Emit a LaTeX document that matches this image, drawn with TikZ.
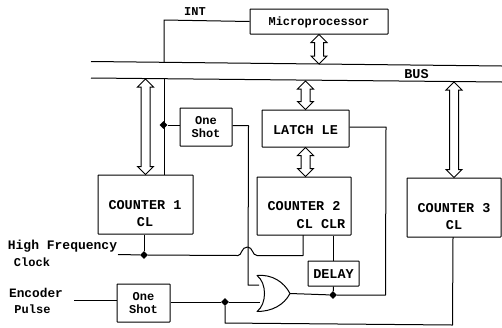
\documentclass[tikz,border=0pt]{standalone}
\usepackage{fontspec}
\setmainfont{Liberation Mono}
\usetikzlibrary{calc,shapes.geometric}
\tikzset{
  box/.style={draw,line width=1pt,inner sep=0pt,rounded corners=0.5pt},
  wire/.style={draw,line width=1pt,line join=round},
  dotnode/.style={diamond,fill=black,inner sep=0pt,minimum width=8pt,minimum height=8pt},
  txa/.style={inner sep=0pt,font=\fontsize{12}{14}\selectfont\bfseries,align=center},
  txb/.style={inner sep=0pt,font=\fontsize{13.5}{15}\selectfont\bfseries,align=center},
  arrowline/.style={line width=1pt,line join=miter},
  dblarrow/.style={to path={
    let \p1=(\tikztostart),\p2=(\tikztotarget) in
    (\x1,\y1) -- (\x1+8pt,\y1-8pt) -- (\x1+4.5pt,\y1-8pt) -- (\x1+4.5pt,\y2+8pt)
    -- (\x1+8pt,\y2+8pt) -- (\x1,\y2) -- (\x1-8pt,\y2+8pt) -- (\x1-4.5pt,\y2+8pt)
    -- (\x1-4.5pt,\y1-8pt) -- (\x1-8pt,\y1-8pt) -- cycle}}
}
\begin{document}
\begin{tikzpicture}[x=1pt,y=-1pt]
\useasboundingbox (0,0) rectangle (502,327);
% boxes
\node[box,minimum width=138pt,minimum height=25pt] (mp) at (319,21.5) {};
\node[txa] (mptext) at (319,22) {Microprocessor};
\node[box,minimum width=52pt,minimum height=38pt] (os1) at (206,127) {};
\node[txa] (os1text) at (206,127) {One\\[-1pt]Shot};
\node[box,minimum width=87pt,minimum height=37pt] (latch) at (305.5,128.5) {};
\node[txb] (latchtext) at (305.5,130) {LATCH LE};
\node[box,minimum width=95pt,minimum height=59pt] (c1) at (145.5,204.5) {};
\node[txb] (c1a) at (145,205) {COUNTER 1};
\node[txb] (c1b) at (145,222) {CL};
\node[box,minimum width=94pt,minimum height=58pt] (c2) at (304,206) {};
\node[txb] (c2a) at (304,206.5) {COUNTER 2};
\node[txb] (c2b) at (321,224) {CL CLR};
\node[box,minimum width=94pt,minimum height=59pt] (c3) at (454,207.5) {};
\node[txb] (c3a) at (454,208) {COUNTER 3};
\node[txb] (c3b) at (454,225) {CL};
\node[box,minimum width=51pt,minimum height=25pt] (delay) at (333.5,273.5) {};
\node[txb] (delaytext) at (333.5,274) {DELAY};
\node[box,minimum width=53pt,minimum height=38pt] (os2) at (143.5,303) {};
\node[txa] (os2text) at (143.5,303) {One\\[-1pt]Shot};
% free labels
\node[txa] (int) at (195,12) {INT};
\node[txb] (bus) at (416.5,74) {BUS};
\node[txa,font=\fontsize{13}{15}\selectfont\bfseries] (hf) at (62.5,246.5) {High Frequency};
\node[txa] (clock) at (32,262.5) {Clock};
\node[txa,font=\fontsize{12.8}{15}\selectfont\bfseries] (enc) at (36,292.5) {Encoder};
\node[txa] (pulse) at (32.5,309) {Pulse};
% bus
\coordinate (btl) at (91,61.5);
\coordinate (btr) at (502,66);
\coordinate (bbl) at (91,78);
\coordinate (bbr) at (502,82);
\draw[wire] (btl) -- (btr);
\draw[wire] (bbl) -- (bbr);
% bus tap points
\coordinate (tapmp) at (319,64);
\coordinate (tapla) at (305.5,81);
\coordinate (tapc1) at (145.5,79);
\coordinate (tapc3) at (454,82);
\coordinate (inttop) at (164,62);
\coordinate (intc) at (164,20);
\coordinate (c1bus) at (164,79);
\coordinate (c1top) at (164,175);
% double arrows
\draw[arrowline] (mp.south) to[dblarrow] (tapmp);
\draw[arrowline] (tapla) to[dblarrow] (latch.north);
\draw[arrowline] (latch.south) to[dblarrow] (c2.north);
\draw[arrowline] (tapc1) to[dblarrow] (c1.north);
\draw[arrowline] (tapc3) to[dblarrow] (c3.north);
% INT
\draw[wire] (mp.west) -- (intc) -- (inttop);
\draw[wire] (c1bus) -- (c1top);
% one shot 1
\node[dotnode] (d1) at (163.5,125) {};
\draw[wire] (d1) -- (os1.west |- d1);
\coordinate (s1) at (248.5,125.5);
\coordinate (s2) at (248,285);
\coordinate (orA) at (259,285);
\draw[wire] (os1.east |- s1) -- (s1) -- (s2) -- (orA);
% OR gate
\coordinate (orT) at (257,275.5);
\coordinate (orB) at (257,311.5);
\coordinate (orO) at (290,293.5);
\draw[wire] (orT) .. controls (267,283) and (267,304) .. (orB)
  .. controls (272,311.5) and (284,305) .. (orO)
  .. controls (284,282) and (272,274) .. (orT) -- cycle;
% OR output
\node[dotnode] (d2) at (333,295) {};
\coordinate (r1) at (385.5,295);
\coordinate (r2) at (386,127);
\draw[wire] (orO) -- (d2) -- (r1) -- (r2) -- (latch.east |- r2);
\draw[wire] (delay.south) -- (d2);
\draw[wire] (delay.north) -- (delay.north |- c2.south);
% clock
\coordinate (hfl) at (118,254.5);
\node[dotnode] (d3) at (144,255) {};
\coordinate (jl) at (238,255.5);
\coordinate (jt) at (247.5,247);
\coordinate (jr) at (257,255.5);
\coordinate (cl2) at (303,255.5);
\coordinate (cl2t) at (303,235);
\draw[wire] (hfl) -- (d3) -- (jl)
  .. controls (242,255.5) and (241,247) .. (jt)
  .. controls (253,247) and (252,255.5) .. (jr) -- (cl2) -- (cl2t);
\draw[wire] (d3) -- (d3 |- c1.south);
% encoder
\coordinate (enl) at (74,300.5);
\draw[wire] (enl) -- (os2.west |- enl);
\node[dotnode] (d4) at (225,302) {};
\coordinate (orC) at (260,302);
\draw[wire] (os2.east |- d4) -- (d4) -- (orC);
\coordinate (b1) at (225,323);
\coordinate (b2) at (452.5,325);
\coordinate (b3) at (453,237);
\draw[wire] (d4) -- (b1) -- (b2) -- (b3);
\end{tikzpicture}
\end{document}
